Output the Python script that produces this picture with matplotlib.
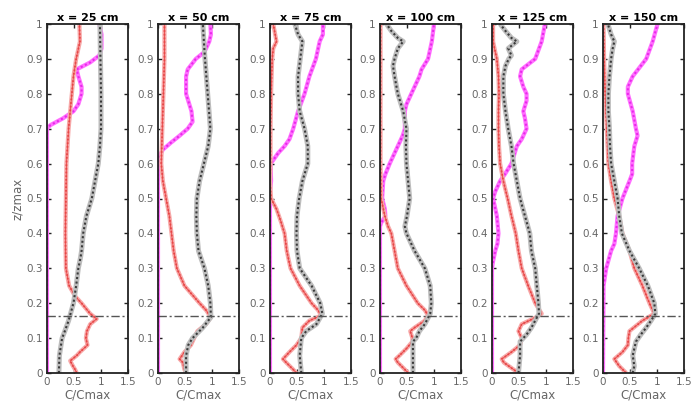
import matplotlib
matplotlib.use("Agg")
import matplotlib.pyplot as plt

plt.rcParams['font.family'] = ['DejaVu Sans']

titles = ["x = 25 cm", "x = 50 cm", "x = 75 cm", "x = 100 cm", "x = 125 cm", "x = 150 cm"]
x_ticks = [0, 0.5, 1, 1.5]
x_tick_labels = ["0", "0.5", "1", "1.5"]
y_ticks = [0, 0.1, 0.2, 0.3, 0.4, 0.5, 0.6, 0.7, 0.8, 0.9, 1.0]
y_tick_labels = ["0", "0.1", "0.2", "0.3", "0.4", "0.5", "0.6", "0.7", "0.8", "0.9", "1"]
dashed_level = 0.163

# (z/zmax, C/Cmax) pairs
black_25 = [(0, 0.22), (0.05, 0.23), (0.08, 0.26), (0.1, 0.28), (0.12, 0.33), (0.15, 0.40), (0.2, 0.49),
            (0.25, 0.54), (0.3, 0.58), (0.33, 0.62), (0.35, 0.64), (0.4, 0.67), (0.45, 0.73), (0.5, 0.83),
            (0.55, 0.89), (0.6, 0.95), (0.65, 0.98), (0.7, 1.0), (0.8, 1.0), (0.9, 0.99), (1.0, 0.98)]
red_25 = [(0, 0.55), (0.01, 0.52), (0.02, 0.48), (0.035, 0.43), (0.05, 0.55), (0.06, 0.61), (0.08, 0.75),
          (0.1, 0.72), (0.12, 0.74), (0.13, 0.77), (0.14, 0.80), (0.155, 0.92), (0.17, 0.80), (0.2, 0.64),
          (0.22, 0.52), (0.25, 0.41), (0.3, 0.35), (0.4, 0.34), (0.5, 0.35), (0.6, 0.36), (0.7, 0.40),
          (0.75, 0.43), (0.8, 0.46), (0.85, 0.49), (0.9, 0.54), (0.95, 0.61), (1.0, 0.60)]
magenta_25 = [(0, 0), (0.7, 0), (0.71, 0.06), (0.73, 0.30), (0.75, 0.49), (0.77, 0.58), (0.8, 0.64),
              (0.82, 0.64), (0.85, 0.58), (0.87, 0.55), (0.89, 0.80), (0.91, 0.97), (0.93, 1.01),
              (0.97, 1.01), (1.0, 0.97)]

black_50 = [(0, 0.52), (0.05, 0.52), (0.08, 0.56), (0.1, 0.64), (0.13, 0.83), (0.16, 0.98), (0.2, 0.97),
            (0.25, 0.93), (0.3, 0.86), (0.35, 0.75), (0.4, 0.72), (0.45, 0.71), (0.5, 0.72), (0.55, 0.77),
            (0.6, 0.85), (0.65, 0.93), (0.7, 0.97), (0.8, 0.92), (0.9, 0.87), (0.95, 0.85), (1.0, 0.83)]
red_50 = [(0, 0.52), (0.01, 0.49), (0.03, 0.46), (0.04, 0.40), (0.06, 0.49), (0.08, 0.61), (0.1, 0.67),
          (0.12, 0.73), (0.14, 0.89), (0.16, 0.98), (0.18, 0.89), (0.2, 0.77), (0.25, 0.49), (0.3, 0.35),
          (0.35, 0.29), (0.4, 0.25), (0.45, 0.21), (0.5, 0.15), (0.55, 0.09), (0.6, 0.06), (0.7, 0.08),
          (0.8, 0.10), (0.9, 0.12), (1.0, 0.12)]
magenta_50 = [(0, 0), (0.6, 0), (0.62, 0.02), (0.64, 0.09), (0.66, 0.24), (0.68, 0.40), (0.7, 0.55),
              (0.72, 0.64), (0.75, 0.62), (0.77, 0.58), (0.8, 0.52), (0.85, 0.52), (0.87, 0.55), (0.9, 0.70),
              (0.92, 0.86), (0.95, 0.95), (0.97, 0.98), (1.0, 0.97)]

black_75 = [(0, 0.58), (0.05, 0.55), (0.1, 0.58), (0.12, 0.67), (0.14, 0.86), (0.17, 0.97), (0.2, 0.93),
            (0.25, 0.77), (0.3, 0.55), (0.35, 0.50), (0.4, 0.49), (0.45, 0.50), (0.5, 0.54), (0.55, 0.60),
            (0.6, 0.70), (0.65, 0.70), (0.7, 0.64), (0.75, 0.55), (0.8, 0.52), (0.85, 0.52), (0.9, 0.56),
            (0.95, 0.60), (0.97, 0.52), (1.0, 0.46)]
red_75 = [(0, 0.49), (0.01, 0.43), (0.03, 0.30), (0.04, 0.24), (0.06, 0.36), (0.08, 0.49), (0.1, 0.58),
          (0.13, 0.60), (0.15, 0.73), (0.165, 0.95), (0.18, 0.89), (0.2, 0.77), (0.25, 0.55), (0.3, 0.38),
          (0.35, 0.31), (0.4, 0.27), (0.43, 0.21), (0.47, 0.12), (0.5, 0.02), (0.55, 0.0), (0.6, 0.01),
          (0.7, 0.01), (0.8, 0.02), (0.9, 0.04), (0.93, 0.06), (0.95, 0.12), (1.0, 0.06)]
magenta_75 = [(0, 0), (0.5, 0), (0.52, 0.0), (0.55, 0.02), (0.6, 0.01), (0.61, 0.06), (0.63, 0.15),
              (0.65, 0.27), (0.67, 0.36), (0.7, 0.43), (0.75, 0.52), (0.8, 0.64), (0.85, 0.73), (0.9, 0.85),
              (0.95, 0.92), (0.97, 0.98), (1.0, 0.98)]

black_100 = [(0, 0.61), (0.05, 0.61), (0.09, 0.61), (0.1, 0.67), (0.12, 0.73), (0.14, 0.83), (0.17, 0.93),
             (0.2, 0.95), (0.25, 0.93), (0.3, 0.83), (0.35, 0.64), (0.4, 0.49), (0.42, 0.46), (0.45, 0.50),
             (0.5, 0.55), (0.55, 0.52), (0.6, 0.49), (0.65, 0.48), (0.7, 0.49), (0.75, 0.43), (0.8, 0.33),
             (0.85, 0.27), (0.88, 0.24), (0.9, 0.27), (0.93, 0.33), (0.95, 0.43), (0.96, 0.33), (0.98, 0.21),
             (1.0, 0.12)]
red_100 = [(0, 0.52), (0.01, 0.46), (0.03, 0.33), (0.04, 0.29), (0.05, 0.36), (0.07, 0.49), (0.09, 0.60),
           (0.1, 0.60), (0.12, 0.56), (0.13, 0.64), (0.15, 0.83), (0.165, 0.89), (0.18, 0.83), (0.2, 0.70),
           (0.25, 0.49), (0.3, 0.33), (0.35, 0.27), (0.4, 0.21), (0.42, 0.15), (0.45, 0.09), (0.5, 0.02),
           (0.6, 0.01), (0.7, 0.01), (0.8, 0.01), (0.9, 0.01), (1.0, 0.01)]
magenta_100 = [(0, 0), (0.42, 0), (0.43, 0.02), (0.45, 0.10), (0.47, 0.09), (0.5, 0.04), (0.55, 0.06),
               (0.57, 0.10), (0.6, 0.18), (0.65, 0.33), (0.68, 0.42), (0.7, 0.46), (0.75, 0.46), (0.77, 0.49),
               (0.8, 0.58), (0.85, 0.73), (0.87, 0.77), (0.9, 0.89), (0.95, 0.96), (1.0, 1.0)]

black_125 = [(0, 0.49), (0.05, 0.52), (0.09, 0.52), (0.11, 0.64), (0.13, 0.73), (0.15, 0.80), (0.17, 0.87),
             (0.2, 0.86), (0.25, 0.83), (0.3, 0.80), (0.35, 0.73), (0.4, 0.70), (0.45, 0.61), (0.5, 0.52),
             (0.55, 0.46), (0.6, 0.40), (0.65, 0.36), (0.7, 0.30), (0.75, 0.25), (0.8, 0.21), (0.85, 0.21),
             (0.88, 0.25), (0.9, 0.31), (0.91, 0.36), (0.93, 0.30), (0.95, 0.46), (0.96, 0.36), (0.98, 0.25),
             (1.0, 0.15)]
red_125 = [(0, 0.49), (0.01, 0.40), (0.03, 0.22), (0.04, 0.18), (0.06, 0.36), (0.08, 0.52), (0.1, 0.55),
           (0.12, 0.49), (0.14, 0.55), (0.16, 0.82), (0.17, 0.92), (0.2, 0.80), (0.25, 0.67), (0.3, 0.55),
           (0.35, 0.49), (0.4, 0.44), (0.45, 0.36), (0.5, 0.29), (0.55, 0.21), (0.6, 0.15), (0.65, 0.13),
           (0.7, 0.12), (0.75, 0.12), (0.8, 0.13), (0.85, 0.12), (0.9, 0.09), (0.92, 0.06), (0.95, 0.02),
           (1.0, 0.02)]
magenta_125 = [(0, 0), (0.3, 0), (0.32, 0.02), (0.35, 0.06), (0.37, 0.10), (0.4, 0.12), (0.45, 0.09),
               (0.5, 0.02), (0.52, 0.06), (0.55, 0.15), (0.57, 0.24), (0.6, 0.36), (0.65, 0.46), (0.67, 0.55),
               (0.7, 0.64), (0.73, 0.61), (0.75, 0.58), (0.78, 0.64), (0.8, 0.64), (0.82, 0.58), (0.85, 0.52),
               (0.87, 0.55), (0.9, 0.80), (0.95, 0.92), (1.0, 0.98)]

black_150 = [(0, 0.55), (0.02, 0.58), (0.05, 0.55), (0.07, 0.58), (0.09, 0.61), (0.11, 0.70), (0.13, 0.80),
             (0.15, 0.89), (0.17, 0.97), (0.2, 0.95), (0.25, 0.83), (0.3, 0.67), (0.35, 0.49), (0.4, 0.35),
             (0.45, 0.30), (0.5, 0.27), (0.55, 0.21), (0.6, 0.15), (0.65, 0.13), (0.7, 0.12), (0.75, 0.10),
             (0.8, 0.10), (0.85, 0.12), (0.9, 0.15), (0.93, 0.18), (0.95, 0.21), (0.97, 0.15), (1.0, 0.09)]
red_150 = [(0, 0.43), (0.02, 0.30), (0.04, 0.21), (0.06, 0.36), (0.08, 0.46), (0.1, 0.47), (0.12, 0.49),
           (0.15, 0.73), (0.17, 0.95), (0.2, 0.86), (0.25, 0.73), (0.3, 0.58), (0.35, 0.49), (0.4, 0.36),
           (0.45, 0.30), (0.5, 0.21), (0.55, 0.15), (0.6, 0.10), (0.7, 0.07), (0.8, 0.04), (0.9, 0.02),
           (1.0, 0.01)]
magenta_150 = [(0, 0), (0.25, 0.01), (0.3, 0.06), (0.35, 0.15), (0.37, 0.21), (0.4, 0.24), (0.45, 0.27),
               (0.5, 0.36), (0.55, 0.49), (0.57, 0.54), (0.6, 0.54), (0.65, 0.58), (0.68, 0.64), (0.7, 0.61),
               (0.75, 0.55), (0.8, 0.46), (0.82, 0.46), (0.85, 0.55), (0.9, 0.80), (0.95, 0.92), (1.0, 1.01)]

panels = [
    (black_25, red_25, magenta_25),
    (black_50, red_50, magenta_50),
    (black_75, red_75, magenta_75),
    (black_100, red_100, magenta_100),
    (black_125, red_125, magenta_125),
    (black_150, red_150, magenta_150),
]

W, H = 698, 407
fig = plt.figure(figsize=(W / 100, H / 100), dpi=100)
lefts_px = [47, 158, 270, 380, 492, 603]
ax_w, ax_bottom, ax_h = 81, 34, 349

# band colour, band width, texture colour, texture width, zorder
styles = {
    'magenta': ('#ff70ff', 3.0, '#ea28ea', 1.5, 2),
    'red': ('#f7a8a8', 3.0, '#e63c3c', 1.2, 3),
    'black': ('#bdbdbd', 3.6, '#3a3a3a', 1.5, 4),
}

tick_color = '#666666'
for i, (blk, red, mag) in enumerate(panels):
    ax = fig.add_axes([lefts_px[i] / W, ax_bottom / H, ax_w / W, ax_h / H])
    for name, data in [('magenta', mag), ('red', red), ('black', blk)]:
        band_c, band_w, tex_c, tex_w, z = styles[name]
        zz = [p[0] for p in data]
        cc = [p[1] for p in data]
        ax.plot(cc, zz, '-', color=band_c, lw=band_w, zorder=z, solid_capstyle='butt')
        ax.plot(cc, zz, color=tex_c, lw=tex_w, zorder=z + 0.2, linestyle=(0, (1.0, 1.2)))
        if name == 'red':
            ax.plot(cc, zz, '-', color='#e84a4a', lw=0.6, zorder=z + 0.3)
    ax.axhline(dashed_level, color='#555555', lw=1.0, ls='-.', dashes=(6, 2, 1.5, 2), zorder=5)
    ax.set_xlim(0, 1.5)
    ax.set_ylim(0, 1)
    ax.set_xticks(x_ticks)
    ax.set_xticklabels(x_tick_labels)
    ax.set_yticks(y_ticks)
    ax.set_yticklabels(y_tick_labels)
    ax.tick_params(direction='in', length=3, width=1.0, top=True, right=True,
                   labelsize=7.5, labelcolor=tick_color, color='#222222', pad=3)
    for sp in ax.spines.values():
        sp.set_linewidth(1.3)
        sp.set_color('#222222')
        sp.set_zorder(6)
    ax.set_title(titles[i], fontsize=8, fontweight='bold', pad=2)
    ax.set_xlabel("C/Cmax", fontsize=8.5, color=tick_color, labelpad=1)
    if i == 0:
        ax.set_ylabel("z/zmax", fontsize=8.5, color=tick_color, labelpad=2)

fig.savefig("out.png", dpi=100)
